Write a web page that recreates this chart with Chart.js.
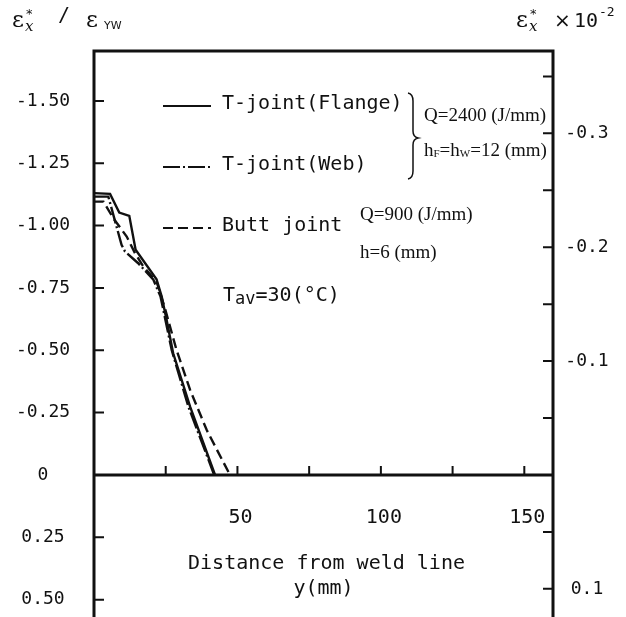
<!DOCTYPE html>
<html>
<head>
<meta charset="utf-8">
<script src="https://cdn.jsdelivr.net/npm/chart.js@4/dist/chart.umd.min.js"></script>
<style>
  html, body { margin: 0; padding: 0; background: #fff; overflow: hidden; }
  canvas { display: block; }
</style>
</head>
<body>
<canvas id="chartStrain" width="626" height="660"></canvas>
<script>
// distance from weld line y (mm) and residual strain ε*x/εYW
const flangeDist   = [0, 5.6, 8.8, 12.3, 14.5, 21.8, 23.6, 25.3, 27.6, 33.5, 42.2];
const flangeStrain = [-1.13, -1.127, -1.052, -1.039, -0.903, -0.785, -0.715, -0.622, -0.488, -0.274, 0];
const webDist      = [0, 5.0, 9.6, 10.8, 15.4, 20.7, 23.2, 27.1, 32.9, 41.9];
const webStrain    = [-1.116, -1.116, -0.923, -0.896, -0.849, -0.783, -0.715, -0.50, -0.274, 0];
const buttDist     = [0, 3.3, 6.7, 11.4, 14.3, 17.2, 21.8, 24.7, 28.8, 33.5, 39.3, 47.4];
const buttStrain   = [-1.096, -1.096, -1.03, -0.956, -0.889, -0.836, -0.776, -0.669, -0.50, -0.341, -0.18, 0];

const seriesNames = ["T-joint(Flange)", "T-joint(Web)", "Butt joint"];

const leftTicks  = [-1.5, -1.25, -1.0, -0.75, -0.5, -0.25, 0, 0.25, 0.5];
const leftLabels = ["-1.50", "-1.25", "-1.00", "-0.75", "-0.50", "-0.25", "0", "0.25", "0.50"];
const rightTicks  = [-0.35, -0.3, -0.25, -0.2, -0.15, -0.1, -0.05, 0.05, 0.1];
const rightLabels = ["", "-0.3", "", "-0.2", "", "-0.1", "", "", "0.1"];
const xTicks  = [25, 50, 75, 100, 125, 150];
const xLabels = ["", "50", "", "100", "", "150"];

// εYW x 100, converts the left scale into ε*x x 10^-2
const yieldScale = 0.219;
const yMin = -1.7, yMax = 0.6;

const MONO = '"DejaVu Sans Mono", monospace';
const SERIF = '"Liberation Serif", serif';
const INK = '#111';

const toPoints = (xs, ys) => xs.map((v, i) => ({ x: v, y: ys[i] }));

const lineStyles = [
    { borderDash: [] },
    { borderDash: [17, 3, 2, 3] },
    { borderDash: [10, 5] }
];

function drawEpsStar(ctx, x, base) {
    ctx.textAlign = 'left';
    ctx.textBaseline = 'alphabetic';
    ctx.font = '23px "DejaVu Serif"';
    ctx.fillText('ε', x, base);
    const w = ctx.measureText('ε').width;
    ctx.font = '13px "DejaVu Sans"';
    ctx.fillText('*', x + w + 2, base - 9);
    ctx.font = 'italic 15px "DejaVu Serif"';
    ctx.fillText('x', x + w + 1, base + 4);
    return x + w + 12;
}

const framePlugin = {
    id: 'frame',
    afterDatasetsDraw(chart) {
        const { ctx, chartArea: a, scales } = chart;
        const sx = scales.x, sy = scales.y, sy2 = scales.y2;
        const y0 = sy.getPixelForValue(0);
        ctx.save();
        ctx.strokeStyle = INK;
        ctx.fillStyle = INK;

        // box (bottom runs off the page) and zero line
        ctx.lineWidth = 3;
        ctx.beginPath();
        ctx.moveTo(a.left, a.bottom + 20);
        ctx.lineTo(a.left, a.top);
        ctx.lineTo(a.right, a.top);
        ctx.lineTo(a.right, a.bottom + 20);
        ctx.moveTo(a.left, y0);
        ctx.lineTo(a.right, y0);
        ctx.stroke();

        // inward ticks
        ctx.lineWidth = 2;
        ctx.beginPath();
        leftTicks.forEach(v => {
            if (v === 0) return;
            const py = sy.getPixelForValue(v);
            ctx.moveTo(a.left, py); ctx.lineTo(a.left + 10, py);
        });
        rightTicks.forEach(v => {
            const py = sy2.getPixelForValue(v);
            ctx.moveTo(a.right, py); ctx.lineTo(a.right - 10, py);
        });
        xTicks.forEach(v => {
            const px = sx.getPixelForValue(v);
            ctx.moveTo(px, y0); ctx.lineTo(px, y0 - 9);
        });
        ctx.stroke();

        // tick labels
        ctx.font = '18px ' + MONO;
        ctx.textAlign = 'center';
        ctx.textBaseline = 'middle';
        leftTicks.forEach((v, i) => ctx.fillText(leftLabels[i], 43, sy.getPixelForValue(v)));
        rightTicks.forEach((v, i) => {
            if (rightLabels[i]) ctx.fillText(rightLabels[i], 587, sy2.getPixelForValue(v));
        });
        ctx.font = '20px ' + MONO;
        xTicks.forEach((v, i) => {
            if (xLabels[i]) ctx.fillText(xLabels[i], sx.getPixelForValue(v) + 3, y0 + 43);
        });

        // x axis title
        const cx = (a.left + a.right) / 2;
        ctx.fillText('Distance from weld line', cx + 3, 564);
        ctx.fillText('y(mm)', cx, 589);

        // axis titles at the top
        let tx = drawEpsStar(ctx, 12, 27);
        ctx.font = '20px ' + MONO;
        ctx.textAlign = 'left';
        ctx.fillText('/', tx + 22, 21);
        ctx.font = '23px "DejaVu Serif"';
        ctx.textBaseline = 'alphabetic';
        ctx.fillText('ε', 86, 27);
        ctx.font = '11px "DejaVu Sans"';
        ctx.fillText('YW', 104, 29);

        tx = drawEpsStar(ctx, 516, 27);
        ctx.font = '20px "DejaVu Sans"';
        ctx.fillText('×', tx + 14, 27);
        ctx.font = '20px ' + MONO;
        ctx.fillText('10', tx + 34, 27);
        ctx.font = '13px ' + MONO;
        ctx.fillText('-2', tx + 59, 16);

        // legend samples and names
        const legendY = [106, 167, 228];
        chart.data.datasets.forEach((ds, i) => {
            ctx.lineWidth = 2;
            ctx.setLineDash(ds.borderDash);
            ctx.beginPath();
            ctx.moveTo(163, legendY[i]);
            ctx.lineTo(211, legendY[i]);
            ctx.stroke();
            ctx.setLineDash([]);
            ctx.font = '20px ' + MONO;
            ctx.textAlign = 'left';
            ctx.textBaseline = 'middle';
            ctx.fillText(seriesNames[i], 222, legendY[i] - 2);
        });

        // brace grouping the two T-joints
        ctx.lineWidth = 1.5;
        ctx.beginPath();
        ctx.moveTo(408, 93);
        ctx.quadraticCurveTo(413, 94, 413, 101);
        ctx.lineTo(413, 131);
        ctx.quadraticCurveTo(413, 137, 418, 138);
        ctx.quadraticCurveTo(413, 139, 413, 145);
        ctx.lineTo(413, 171);
        ctx.quadraticCurveTo(413, 178, 408, 179);
        ctx.stroke();

        // welding conditions
        ctx.font = '19px ' + SERIF;
        ctx.textBaseline = 'middle';
        ctx.fillText('Q=2400 (J/mm)', 424, 116);
        let hx = 424;
        ctx.fillText('h', hx, 151); hx += ctx.measureText('h').width;
        ctx.font = '11px ' + SERIF;
        ctx.fillText('F', hx, 154); hx += ctx.measureText('F').width;
        ctx.font = '19px ' + SERIF;
        ctx.fillText('=h', hx, 151); hx += ctx.measureText('=h').width;
        ctx.font = '11px ' + SERIF;
        ctx.fillText('W', hx, 154); hx += ctx.measureText('W').width;
        ctx.font = '19px ' + SERIF;
        ctx.fillText('=12 (mm)', hx, 151);
        ctx.fillText('Q=900 (J/mm)', 360, 215);
        ctx.fillText('h=6 (mm)', 360, 253);

        // average temperature
        ctx.font = '20px ' + MONO;
        ctx.fillText('T', 223, 296);
        let ax = 223 + ctx.measureText('T').width;
        ctx.font = '17px ' + MONO;
        ctx.fillText('av', ax, 300);
        ax += ctx.measureText('av').width;
        ctx.font = '20px ' + MONO;
        ctx.fillText('=30(°C)', ax, 296);

        ctx.restore();
    }
};

new Chart(document.getElementById('chartStrain'), {
    type: 'scatter',
    data: {
        datasets: [
            { label: seriesNames[0], data: toPoints(flangeDist, flangeStrain), yAxisID: 'y', ...lineStyles[0] },
            { label: seriesNames[1], data: toPoints(webDist, webStrain), yAxisID: 'y', ...lineStyles[1] },
            { label: seriesNames[2], data: toPoints(buttDist, buttStrain), yAxisID: 'y', ...lineStyles[2] }
        ].map(ds => Object.assign(ds, {
            showLine: true,
            borderColor: INK,
            borderWidth: 2.4,
            pointRadius: 0,
            tension: 0
        }))
    },
    options: {
        responsive: false,
        animation: false,
        events: [],
        layout: { padding: { left: 94, right: 73, top: 51, bottom: 35.4 } },
        plugins: { legend: { display: false }, tooltip: { enabled: false } },
        scales: {
            x: { type: 'linear', min: 0, max: 160, display: false },
            y: { type: 'linear', min: yMin, max: yMax, reverse: true, display: false },
            y2: { type: 'linear', min: yMin * yieldScale, max: yMax * yieldScale, reverse: true, display: false }
        }
    },
    plugins: [framePlugin]
});
</script>
</body>
</html>
